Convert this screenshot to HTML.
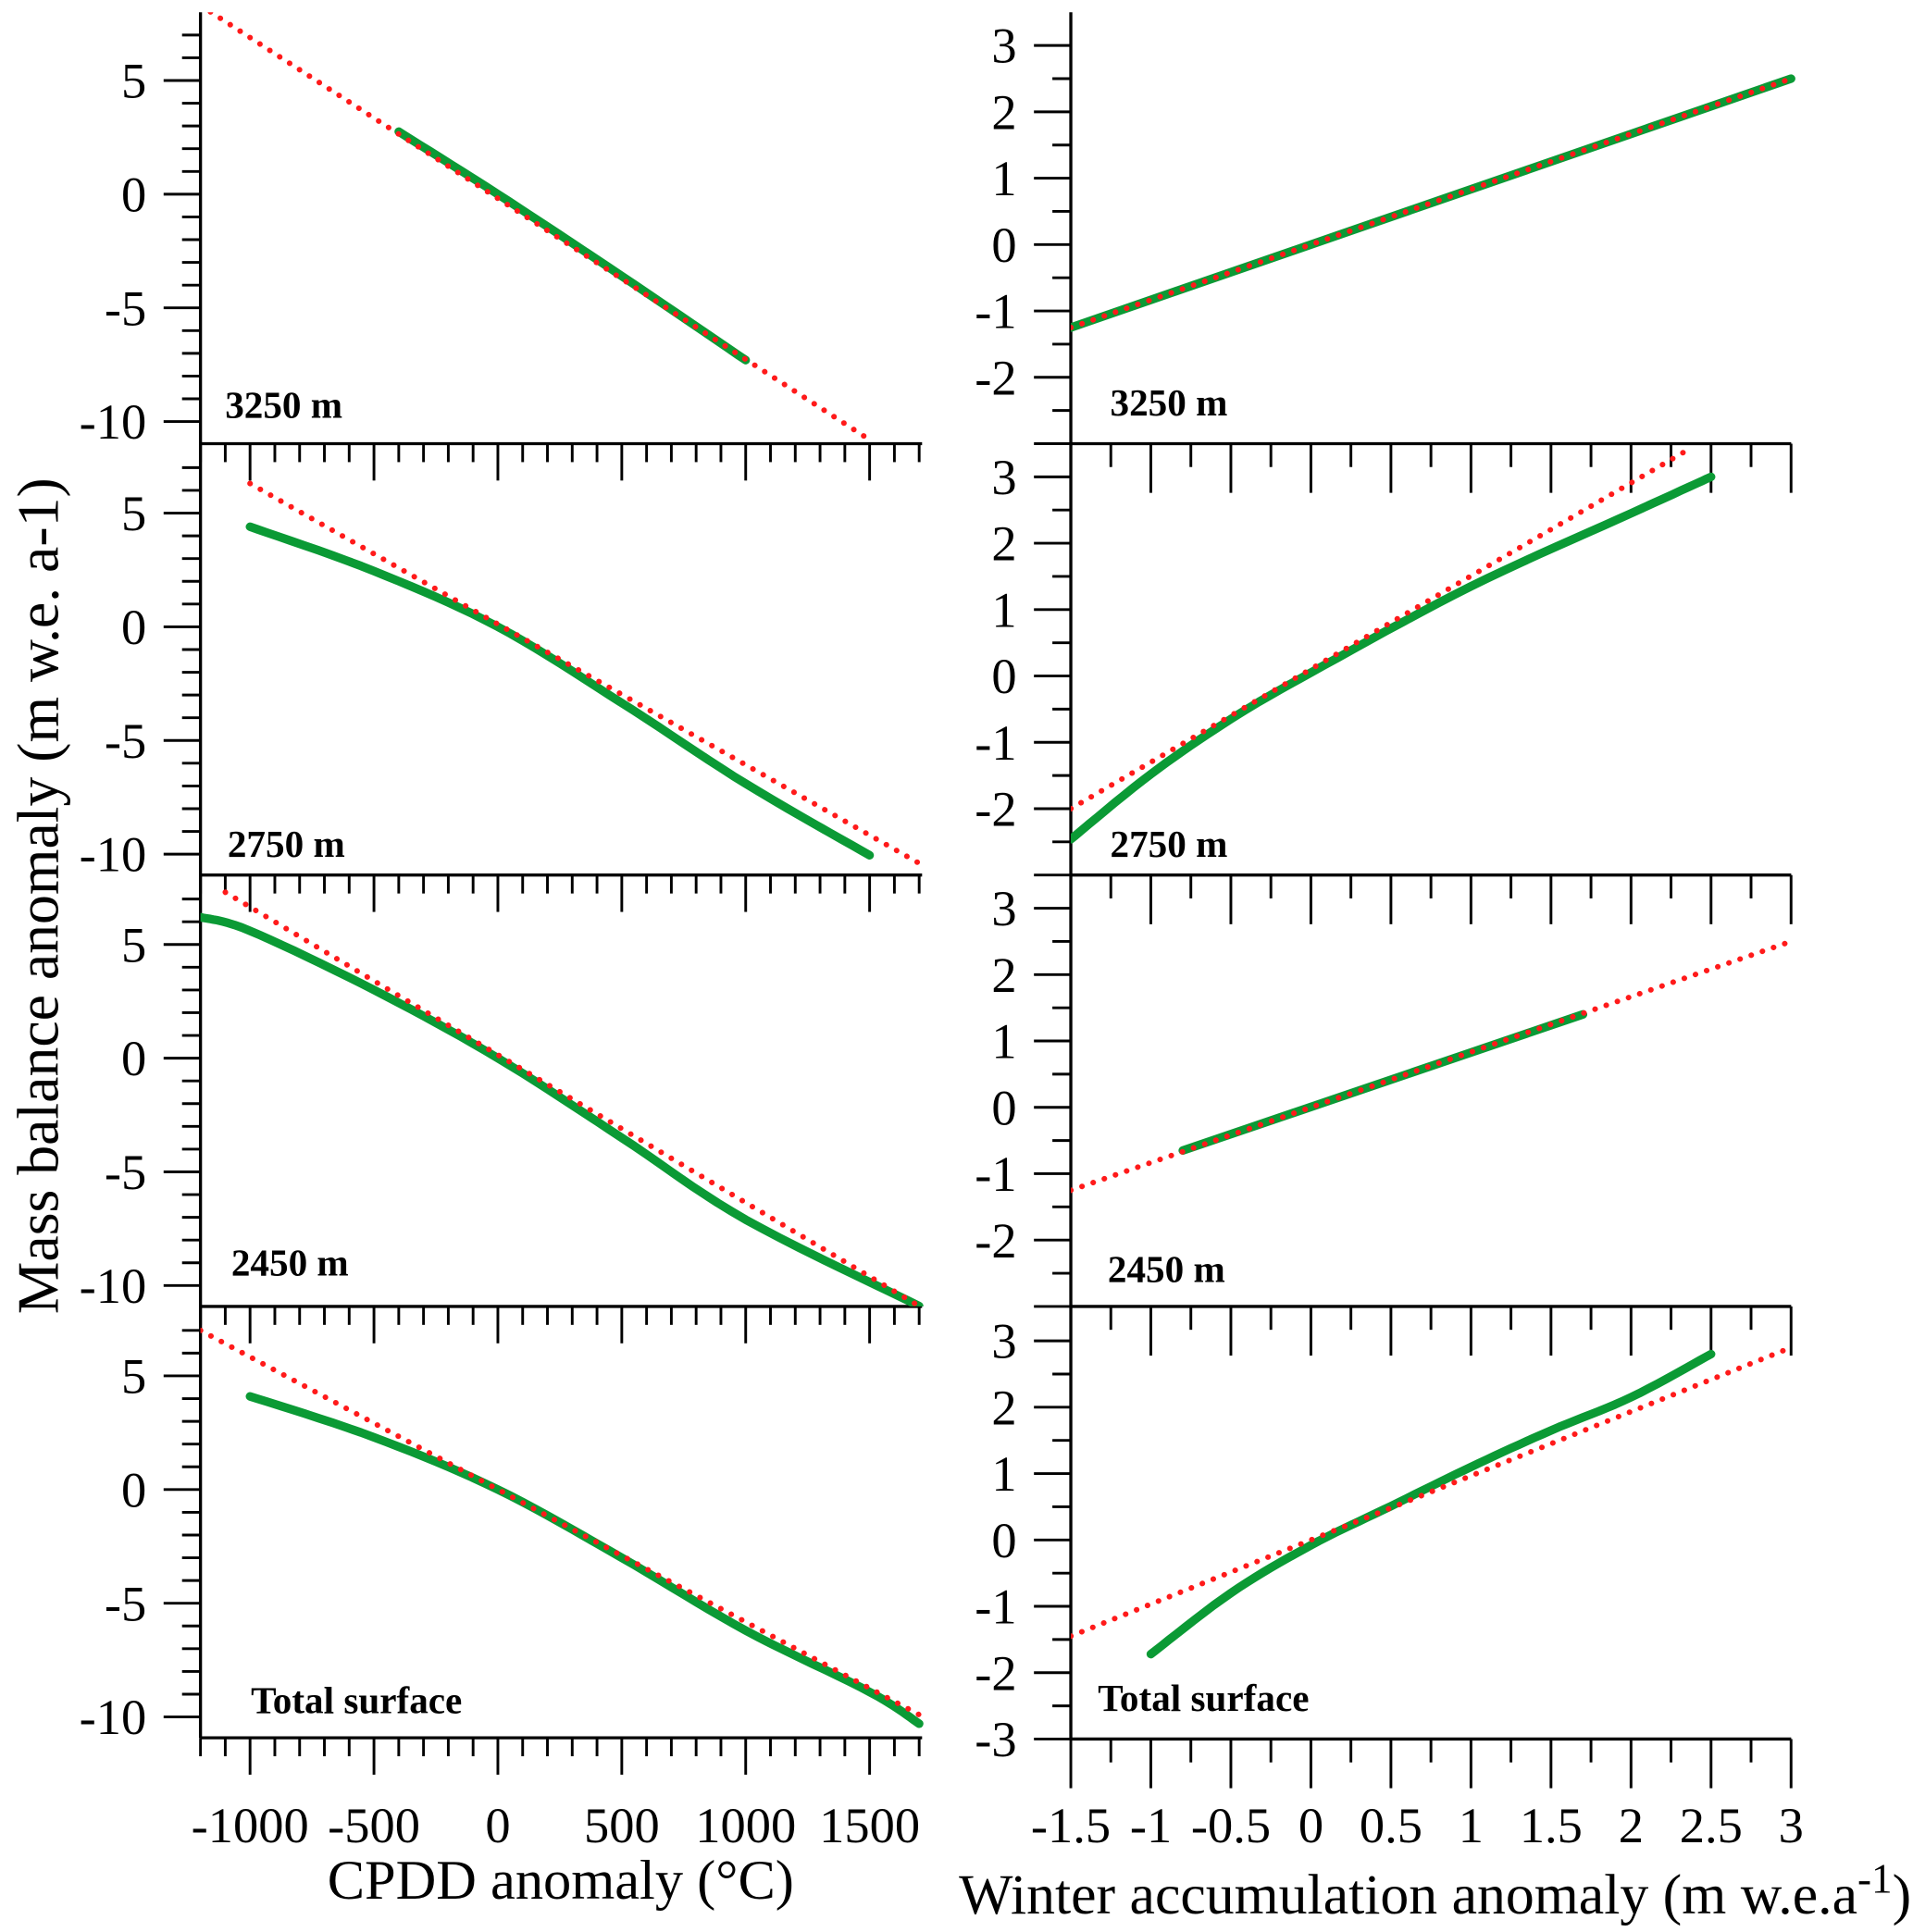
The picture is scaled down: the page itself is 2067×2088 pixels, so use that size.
<!DOCTYPE html>
<html><head><meta charset="utf-8"><style>html,body{margin:0;padding:0;background:#fff}svg{display:block}</style></head>
<body>
<svg id="chart" xmlns="http://www.w3.org/2000/svg" width="2067" height="2088" viewBox="0 0 1556 1572" font-family="'Liberation Serif', serif">
<g id="g"></g>
<text transform="translate(47,729) rotate(-90)" text-anchor="middle" font-size="48">Mass balance anomaly (m w.e. a-1)</text>
<text x="456" y="1545" text-anchor="middle" font-size="45.5">CPDD anomaly (°C)</text>
<text x="780" y="1557" font-size="46.5">Winter accumulation anomaly (m w.e.a<tspan dy="-17" font-size="34">-1</tspan><tspan dy="17">)</tspan></text>
</svg>
<script>
// Left (CPDD) panels
const leftLabels = ["3250 m","2750 m","2450 m","Total surface"];
const leftRedX = [[-1200,1500],[-1000,1700],[-1100,1700],[-1200,1700]];
const leftRedY = [[8.3,-10.8],[6.3,-10.4],[7.3,-10.9],[7.0,-9.9]];
const leftGreenX = [[-400,0,500,1000],[-1000,-500,0,500,1000,1500],[-1200,-1000,-500,0,500,1000,1700],[-1000,-500,0,500,1000,1500,1700]];
const leftGreenY = [[2.75,0,-3.6,-7.3],[4.4,2.45,0,-3.35,-6.9,-10.05],[6.2,5.6,3.0,0,-3.5,-7.1,-10.9],[4.1,2.3,0,-3.0,-6.2,-8.9,-10.3]];
const leftXTicks = [-1000,-500,0,500,1000,1500];
const leftYTicks = [5,0,-5,-10];
// Right (winter accumulation) panels
const rightLabels = ["3250 m","2750 m","2450 m","Total surface"];
const rightRedX = [[-1.5,3],[-1.5,2.35],[-1.5,3],[-1.5,3]];
const rightRedY = [[-1.25,2.5],[-2.0,3.4],[-1.25,2.5],[-1.45,2.9]];
const rightGreenX = [[-1.5,3],[-1.5,-1,-0.5,0,1,2,2.5],[-0.8,1.7],[-1,-0.5,0,0.5,1,1.5,2,2.5]];
const rightGreenY = [[-1.25,2.5],[-2.46,-1.48,-0.65,0.05,1.35,2.45,3.0],[-0.65,1.4],[-1.72,-0.8,-0.08,0.51,1.1,1.65,2.15,2.8]];
const rightXTicks = ["-1.5","-1","-0.5","0","0.5","1","1.5","2","2.5","3"];
const rightYTicks = [3,2,1,0,-1,-2];
const rightYTicksBottom = [3,2,1,0,-1,-2,-3];

const NS="http://www.w3.org/2000/svg";
const G=document.getElementById('g');
function mk(t,a,p){const e=document.createElementNS(NS,t);for(const k in a)e.setAttribute(k,a[k]);(p||G).appendChild(e);return e;}
const zerosL=[158,510,861,1212], zerosR=[199,550,901,1253];
const LX=v=>163+(v+1200)*(100.8/500);
const RX=v=>871+(v+1.5)*130.2;
const LY=(i,v)=>zerosL[i]-v*18.5;
const RY=(i,v)=>zerosR[i]-v*54;
const bottomsL=[361,712,1063,1414], bottomsR=[361,712,1063,1415];

function line(x1,y1,x2,y2,name,w){const l=mk('line',{x1,y1,x2,y2,stroke:'#000','stroke-width':w||2.5});

return l;}
function txt(x,y,s,anchor,size,name,bold){const t=mk('text',{x,y,'text-anchor':anchor,'font-size':size});if(bold)t.setAttribute('font-weight','bold');t.textContent=s;

return t;}
function path(xs,ys,fx,fy,stroke,w,dash,name){let d='';for(let k=0;k<xs.length;k++)d+=(k?'L':'M')+fx(xs[k]).toFixed(1)+','+fy(ys[k]).toFixed(1);
const a={d,fill:'none',stroke,'stroke-width':w,'stroke-linecap':'round','stroke-linejoin':'round'};if(dash)a['stroke-dasharray']=dash;
const p=mk('path',a);

return p;}
function smooth(xs,ys){
 if(xs.length<3)return [xs,ys];const ox=[],oy=[];
 for(let k=0;k<xs.length-1;k++){const x0=xs[Math.max(0,k-1)],x1=xs[k],x2=xs[k+1],x3=xs[Math.min(xs.length-1,k+2)];
 const y0=ys[Math.max(0,k-1)],y1=ys[k],y2=ys[k+1],y3=ys[Math.min(ys.length-1,k+2)];
 for(let s=0;s<10;s++){const t=s/10,t2=t*t,t3=t2*t;
 ox.push(0.5*((2*x1)+(-x0+x2)*t+(2*x0-5*x1+4*x2-x3)*t2+(-x0+3*x1-3*x2+x3)*t3));
 oy.push(0.5*((2*y1)+(-y0+y2)*t+(2*y0-5*y1+4*y2-y3)*t2+(-y0+3*y1-3*y2+y3)*t3));}}
 ox.push(xs[xs.length-1]);oy.push(ys[ys.length-1]);return [ox,oy];}

line(163,10,163,1414,'left-y-axis');
line(871,10,871,1415,'right-y-axis');
for(let i=0;i<4;i++){
 const top=i?bottomsL[i-1]:10;
 line(163,bottomsL[i],750,bottomsL[i],'left-x-axis-panel-'+(i+1));
 for(let v=-1200;v<=1700;v+=100){const maj=v%500===0;line(LX(v),bottomsL[i],LX(v),bottomsL[i]+(maj?30:15),'left-x-tick',2.2);}
 for(let v=-10;v<=7;v++){const y=LY(i,v);if(y<top+2)continue;const maj=v%5===0;line(163-(maj?30:15),y,163,y,'left-y-tick',2.2);}
 leftYTicks.forEach(v=>txt(119,LY(i,v)+14,String(v),'end',41,'left-y-tick-label'));
 const top2=i?bottomsR[i-1]:10;
 line(871,bottomsR[i],1457,bottomsR[i],'right-x-axis-panel-'+(i+1));
 for(let v=-1.5;v<=3.001;v+=0.25){const maj=Math.abs(v*2-Math.round(v*2))<1e-6;line(RX(v),bottomsR[i],RX(v),bottomsR[i]+(maj?40:19),'right-x-tick',2.2);}
 for(let v=-3;v<=3.5;v+=0.5){const y=RY(i,v);if(y<top2+2||y>bottomsR[i]+1)continue;const maj=Number.isInteger(v);line(871-(maj?30:15),y,871,y,'right-y-tick',2.2);}
 (i===3?rightYTicksBottom:rightYTicks).forEach(v=>txt(827,RY(i,v)+14,String(v),'end',41,'right-y-tick-label'));
 const cl=mk('clipPath',{id:'cl'+i});mk('rect',{x:163,y:top,width:600,height:bottomsL[i]-top},cl);
 const cr=mk('clipPath',{id:'cr'+i});mk('rect',{x:871,y:top2,width:600,height:bottomsR[i]-top2},cr);
 const gl=mk('g',{'clip-path':'url(#cl'+i+')'});
 const gr=mk('g',{'clip-path':'url(#cr'+i+')'});
 let [sx,sy]=smooth(leftGreenX[i],leftGreenY[i]);
 const pg=path(sx,sy,LX,v=>LY(i,v),'#0b9a35',7,null,'left-green-model-'+(i+1));gl.appendChild(pg);
 const pr=path(leftRedX[i],leftRedY[i],LX,v=>LY(i,v),'#ff1a1a',4.5,'0.1 9.5','left-red-linear-'+(i+1));gl.appendChild(pr);
 [sx,sy]=smooth(rightGreenX[i],rightGreenY[i]);
 const qg=path(sx,sy,RX,v=>RY(i,v),'#0b9a35',7,null,'right-green-model-'+(i+1));gr.appendChild(qg);
 const qr=path(rightRedX[i],rightRedY[i],RX,v=>RY(i,v),'#ff1a1a',4.5,'0.1 9.5','right-red-linear-'+(i+1));gr.appendChild(qr);
}
const lpos=[[183,340],[185,697],[188,1038],[204,1394]], rpos=[[903,338],[903,697],[901,1043],[893,1392]];
leftLabels.forEach((s,i)=>txt(lpos[i][0],lpos[i][1],s,'start',31,'left-panel-label',true));
rightLabels.forEach((s,i)=>txt(rpos[i][0],rpos[i][1],s,'start',31,'right-panel-label',true));
leftXTicks.forEach(v=>txt(LX(v),1499,String(v),'middle',41,'left-x-tick-label'));
rightXTicks.forEach(v=>txt(RX(parseFloat(v)),1499,v,'middle',41,'right-x-tick-label'));
</script>
</body></html>
